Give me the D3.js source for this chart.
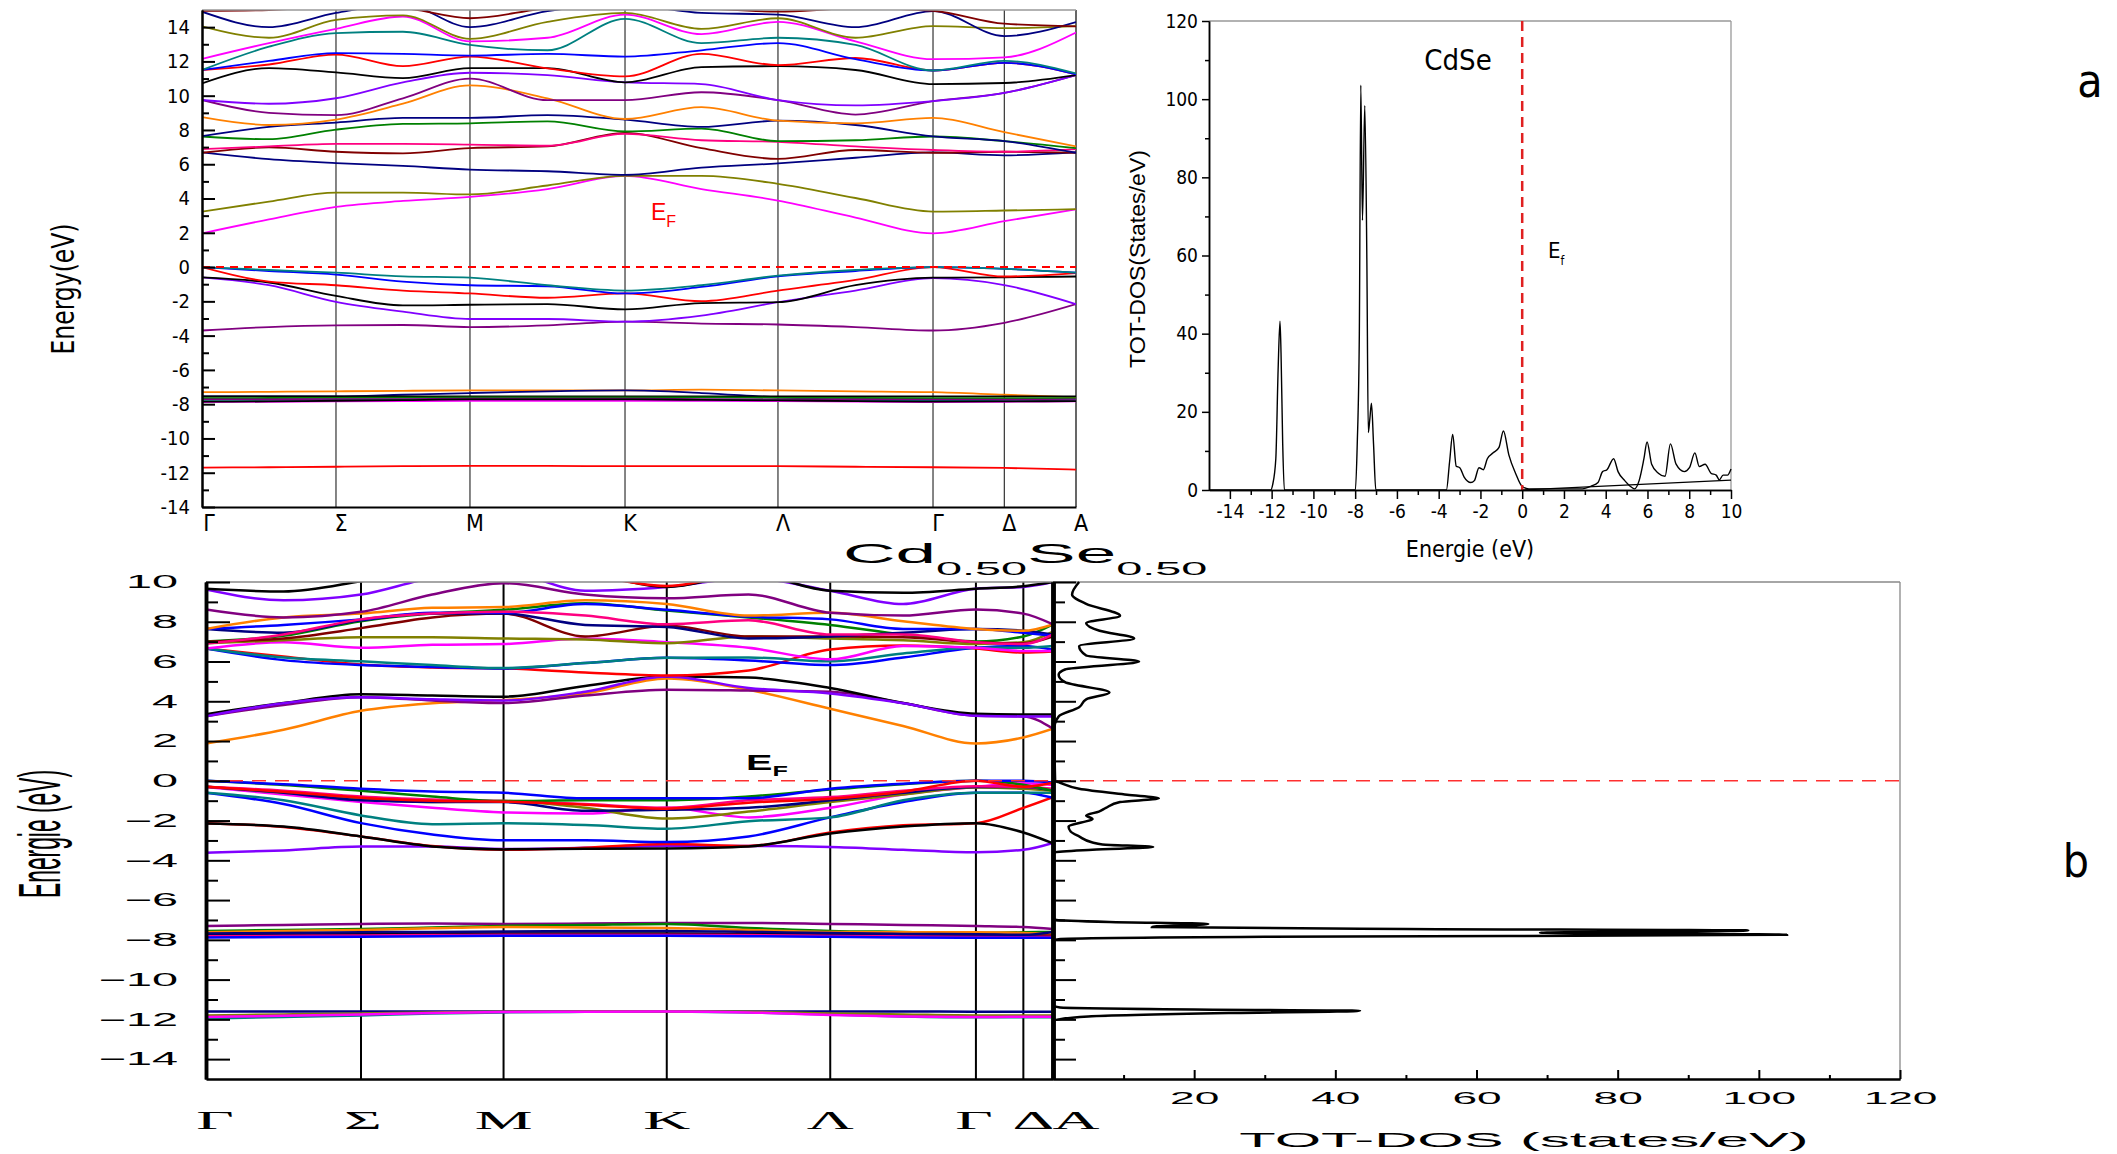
<!DOCTYPE html>
<html>
<head>
<meta charset="utf-8">
<script src="https://cdn.jsdelivr.net/npm/d3@7"></script>
<style>
  body { margin: 0; background: #fff; }
  svg { display: block; }
  .narrow { font-family: "Liberation Sans Narrow", "Arial Narrow", "DejaVu Sans Condensed", sans-serif; }
  .wide { font-family: "Liberation Sans", Arial, sans-serif; }
  .serif { font-family: "Liberation Serif", "Times New Roman", serif; }
</style>
</head>
<body>
<script>
/* Data */

//High symmetry points and their position along the k path (fraction of path).
var kLabels = ["Γ", "Σ", "M", "K", "Λ", "Γ", "Δ", "A"];
var kPosA = [0, 0.1533, 0.3066, 0.484, 0.659, 0.8364, 0.918, 1];
var kPosB = [0, 0.183, 0.3513, 0.544, 0.737, 0.909, 0.965, 1];

//Band energies (eV), sampled at Γ, mid, Σ, mid, M, mid, K, mid, Λ, mid, Γ, Δ, A.
var bandsA = [
  [-11.7, -11.68, -11.65, -11.62, -11.6, -11.6, -11.62, -11.62, -11.62, -11.65, -11.68, -11.72, -11.82],
  [-7.3, -7.28, -7.25, -7.22, -7.2, -7.2, -7.2, -7.15, -7.2, -7.25, -7.3, -7.45, -7.6],
  [-7.55, -7.55, -7.55, -7.45, -7.35, -7.25, -7.2, -7.35, -7.6, -7.75, -7.8, -7.75, -7.7],
  [-7.55, -7.55, -7.55, -7.55, -7.55, -7.55, -7.55, -7.55, -7.55, -7.55, -7.55, -7.55, -7.55],
  [-7.65, -7.64, -7.63, -7.62, -7.6, -7.6, -7.6, -7.6, -7.63, -7.64, -7.65, -7.65, -7.65],
  [-7.72, -7.72, -7.7, -7.7, -7.68, -7.68, -7.68, -7.7, -7.72, -7.72, -7.74, -7.74, -7.72],
  [-7.82, -7.82, -7.8, -7.78, -7.76, -7.76, -7.76, -7.78, -7.8, -7.82, -7.83, -7.82, -7.8],
  [-7.88, -7.86, -7.84, -7.82, -7.8, -7.8, -7.8, -7.8, -7.82, -7.85, -7.88, -7.86, -7.84],
  [-7.85, -7.84, -7.8, -7.76, -7.72, -7.72, -7.72, -7.75, -7.78, -7.82, -7.85, -7.84, -7.82],
  [-3.7, -3.5, -3.4, -3.38, -3.5, -3.4, -3.18, -3.3, -3.35, -3.5, -3.7, -3.25, -2.16],
  [-0.6, -1.06, -2.03, -2.6, -3.03, -3.03, -3.18, -2.83, -2.05, -1.37, -0.65, -1.05, -2.16],
  [-0.6, -0.9, -1.68, -2.24, -2.2, -2.16, -2.47, -2.1, -2.05, -1.06, -0.62, -0.6, -0.55],
  [0, -0.85, -1.06, -1.37, -1.54, -1.79, -1.54, -1.99, -1.37, -0.75, 0, -0.55, -0.35],
  [0, -0.23, -0.44, -0.85, -1.06, -1.12, -1.54, -1.16, -0.54, -0.23, 0, -0.1, -0.33],
  [0, -0.17, -0.33, -0.54, -0.62, -1.06, -1.37, -1.06, -0.5, -0.17, 0, -0.1, -0.33],
  [1.97, 2.78, 3.51, 3.86, 4.09, 4.55, 5.32, 4.55, 3.88, 2.89, 1.97, 2.68, 3.37],
  [3.24, 3.82, 4.34, 4.34, 4.24, 4.76, 5.32, 5.32, 4.86, 4.03, 3.24, 3.3, 3.38],
  [6.69, 6.3, 6.07, 5.9, 5.69, 5.59, 5.38, 5.8, 6.05, 6.38, 6.69, 6.52, 6.69],
  [6.67, 6.98, 6.73, 6.63, 6.94, 7.04, 7.83, 6.94, 6.31, 6.83, 6.67, 6.73, 6.67],
  [6.88, 7.04, 7.19, 7.19, 7.15, 7.08, 7.77, 7.4, 7.31, 7.04, 6.83, 6.73, 6.88],
  [7.62, 7.46, 8.02, 8.35, 8.39, 8.5, 7.91, 8.08, 7.35, 7.4, 7.62, 7.35, 6.94],
  [7.64, 8.18, 8.43, 8.7, 8.7, 8.87, 8.6, 8.18, 8.54, 8.29, 7.62, 7.35, 6.67],
  [8.75, 8.29, 8.6, 9.53, 10.6, 9.85, 8.64, 9.33, 8.54, 8.39, 8.7, 7.87, 7.04],
  [9.75, 9.0, 8.87, 9.85, 11.0, 9.74, 9.74, 10.2, 9.74, 8.9, 9.68, 10.16, 11.2],
  [9.75, 9.53, 9.85, 10.78, 11.34, 11.2, 10.78, 10.68, 9.74, 9.43, 9.68, 10.16, 11.2],
  [10.72, 11.61, 11.36, 11.03, 11.61, 11.61, 10.78, 11.67, 11.72, 11.5, 10.68, 10.74, 11.2],
  [11.5, 11.82, 12.4, 11.72, 12.28, 11.6, 11.13, 12.44, 11.78, 12.2, 11.47, 11.92, 11.24],
  [11.5, 12.03, 12.48, 12.44, 12.34, 12.44, 12.28, 12.65, 13.07, 12.13, 11.47, 11.92, 11.24],
  [11.5, 12.86, 13.65, 13.73, 12.96, 12.65, 14.48, 13.07, 13.38, 12.96, 11.47, 12.03, 11.3],
  [12.15, 13.07, 13.9, 14.62, 13.17, 13.38, 14.73, 13.59, 14.31, 13.17, 12.13, 12.24, 13.69],
  [14.05, 13.38, 14.42, 14.69, 13.32, 14.31, 14.83, 13.9, 14.52, 13.38, 14.06, 13.94, 14.06],
  [14.9, 14.0, 14.83, 15.35, 14.0, 14.94, 15.3, 14.83, 14.73, 14.0, 14.94, 13.48, 14.3],
  [14.95, 15.0, 15.2, 15.1, 14.52, 15.1, 15.3, 15.1, 14.9, 15.1, 14.95, 14.2, 14.05]
];
var bandColorsA = ["#ff0000", "#ff8000", "#000080", "#000000", "#008000", "#800080", "#008080", "#ff00ff", "#000000",
  "#800080", "#8000ff", "#000000", "#ff0000", "#0000ff", "#008080",
  "#ff00ff", "#808000", "#000080", "#800000", "#ff0080", "#008000", "#000080", "#ff8000", "#800080", "#8000ff",
  "#000000", "#ff0000", "#0000ff", "#008080", "#ff00ff", "#808000", "#000080", "#800000"];

var bandsB = [
  [-11.6, -11.6, -11.6, -11.6, -11.6, -11.6, -11.6, -11.6, -11.6, -11.6, -11.62, -11.62, -11.62],
  [-11.95, -11.88, -11.8, -11.7, -11.65, -11.62, -11.6, -11.65, -11.75, -11.85, -11.9, -11.9, -11.9],
  [-11.8, -11.75, -11.7, -11.65, -11.62, -11.61, -11.6, -11.62, -11.7, -11.75, -11.8, -11.8, -11.8],
  [-11.88, -11.82, -11.75, -11.68, -11.63, -11.62, -11.61, -11.65, -11.78, -11.85, -11.88, -11.87, -11.87],
  [-7.3, -7.25, -7.2, -7.18, -7.2, -7.18, -7.15, -7.15, -7.2, -7.25, -7.3, -7.35, -7.45],
  [-7.55, -7.5, -7.45, -7.38, -7.3, -7.25, -7.2, -7.4, -7.55, -7.6, -7.65, -7.62, -7.6],
  [-7.62, -7.55, -7.5, -7.42, -7.35, -7.38, -7.4, -7.5, -7.6, -7.62, -7.62, -7.65, -7.7],
  [-7.75, -7.74, -7.72, -7.7, -7.7, -7.7, -7.7, -7.72, -7.75, -7.76, -7.78, -7.78, -7.78],
  [-7.72, -7.72, -7.7, -7.7, -7.68, -7.68, -7.68, -7.7, -7.72, -7.75, -7.75, -7.8, -7.85],
  [-7.82, -7.8, -7.78, -7.76, -7.75, -7.75, -7.75, -7.76, -7.8, -7.82, -7.85, -7.85, -7.85],
  [-7.88, -7.86, -7.84, -7.82, -7.8, -7.8, -7.8, -7.82, -7.85, -7.88, -7.9, -7.9, -7.9],
  [-7.68, -7.66, -7.62, -7.6, -7.58, -7.56, -7.55, -7.6, -7.66, -7.7, -7.72, -7.75, -7.6],
  [-3.62, -3.5, -3.31, -3.31, -3.43, -3.37, -3.28, -3.28, -3.33, -3.47, -3.6, -3.47, -3.12],
  [-2.13, -2.32, -2.8, -3.28, -3.47, -3.37, -3.18, -3.28, -2.6, -2.24, -2.13, -1.36, -0.82],
  [-2.15, -2.3, -2.8, -3.3, -3.45, -3.42, -3.4, -3.3, -2.65, -2.3, -2.13, -2.6, -3.15],
  [-0.6, -1.17, -2.13, -2.7, -2.99, -2.99, -3.08, -2.8, -1.84, -1.07, -0.6, -0.6, -0.86],
  [-0.6, -0.98, -1.74, -2.18, -2.13, -2.22, -2.41, -2.03, -1.84, -0.98, -0.6, -0.6, -0.6],
  [-0.31, -0.69, -1.07, -1.36, -1.59, -1.65, -1.36, -1.84, -1.36, -0.69, -0.31, -0.12, -0.21],
  [-0.3, -0.6, -0.88, -1.07, -1.02, -1.36, -1.9, -1.55, -1.07, -0.69, -0.34, -0.4, -0.5],
  [-0.3, -0.6, -0.98, -1.07, -1.07, -1.51, -1.46, -1.36, -0.98, -0.6, -0.31, -0.31, -0.48],
  [-0.3, -0.5, -0.79, -0.94, -1.02, -1.17, -1.36, -0.98, -0.82, -0.5, -0.27, -0.3, -0.4],
  [0, -0.21, -0.5, -0.79, -1.02, -0.98, -0.98, -0.79, -0.44, -0.17, 0, -0.2, -0.5],
  [0, -0.17, -0.4, -0.54, -0.6, -0.88, -0.88, -0.88, -0.4, -0.15, 0, 0, -0.08],
  [-0.3, -0.55, -0.85, -1.0, -1.05, -1.2, -1.4, -1.1, -0.9, -0.55, 0, -0.3, -0.1],
  [1.88, 2.57, 3.52, 3.9, 4.06, 4.39, 5.15, 4.58, 3.62, 2.76, 1.88, 2.18, 2.62],
  [3.25, 3.81, 4.2, 4.04, 3.91, 4.29, 4.58, 4.54, 4.48, 3.91, 3.27, 3.24, 2.62],
  [3.35, 3.91, 4.35, 4.29, 4.23, 4.77, 5.25, 5.19, 4.67, 3.91, 3.37, 3.33, 3.33],
  [3.25, 3.9, 4.2, 4.1, 4.04, 4.48, 5.25, 4.67, 4.39, 3.9, 3.27, 3.24, 3.24],
  [6.65, 6.25, 5.85, 5.7, 5.65, 5.45, 5.3, 5.55, 6.6, 6.8, 6.65, 6.45, 6.5],
  [6.65, 6.07, 5.82, 5.73, 5.65, 5.92, 6.19, 6.05, 5.82, 6.2, 6.69, 6.78, 6.59],
  [6.65, 6.2, 6.01, 5.82, 5.67, 5.92, 6.19, 6.2, 6.01, 6.4, 6.69, 6.69, 6.78],
  [6.65, 6.97, 6.69, 6.84, 6.88, 7.16, 6.97, 6.69, 6.11, 6.78, 6.69, 6.53, 6.53],
  [6.92, 7.07, 7.22, 7.22, 7.16, 7.11, 6.92, 7.26, 7.16, 7.07, 6.88, 6.97, 7.51],
  [7.01, 7.3, 8.03, 8.41, 8.6, 8.93, 8.56, 8.22, 7.84, 7.36, 7.01, 7.26, 7.87],
  [7.0, 7.16, 7.68, 8.22, 8.41, 7.26, 7.8, 7.26, 7.26, 7.22, 6.97, 6.92, 7.26],
  [7.64, 7.45, 8.07, 8.41, 8.41, 7.84, 7.74, 7.16, 7.26, 7.45, 7.64, 7.55, 7.36],
  [7.64, 7.84, 8.12, 8.45, 8.45, 8.89, 8.6, 8.26, 8.12, 7.64, 7.64, 7.45, 7.3],
  [6.9, 7.36, 8.12, 8.41, 8.5, 8.31, 7.87, 8.07, 7.36, 7.36, 6.97, 6.88, 7.36],
  [7.64, 8.22, 8.41, 8.7, 8.74, 9.08, 8.89, 8.31, 8.45, 8.03, 7.64, 7.55, 7.87],
  [8.62, 8.22, 8.5, 9.37, 9.94, 9.37, 9.18, 9.37, 8.45, 8.31, 8.62, 8.41, 7.87],
  [9.62, 9.08, 9.37, 10.2, 10.5, 9.56, 9.75, 10.2, 9.56, 8.89, 9.66, 9.75, 10.0],
  [9.66, 9.52, 10.04, 10.7, 11.0, 10.5, 9.75, 10.4, 9.56, 9.46, 9.66, 9.79, 10.0],
  [11.5, 11.3, 11.2, 11.1, 11.0, 10.4, 9.8, 10.6, 11.0, 11.2, 11.3, 11.3, 11.3]
];
var bandColorsB = ["#000080", "#008080", "#808000", "#ff00ff", "#800080", "#008000", "#ff8000", "#800000", "#000000",
  "#ff0080", "#0000ff", "#000080", "#8000ff", "#ff0000", "#000000", "#0000ff", "#008080", "#ff00ff", "#808000",
  "#000080", "#ff0080", "#008000", "#0000ff", "#ff0000", "#ff8000", "#800080", "#000000", "#8000ff", "#ff0000",
  "#0000ff", "#008080", "#ff00ff", "#808000", "#008000", "#800000", "#000080", "#0000ff", "#ff0080", "#ff8000",
  "#800080", "#8000ff", "#000000", "#ff0000"];

//Total DOS of CdSe (panel a): energy (eV) and states/eV.
var dosAE = [-15, -12.05, -11.95, -11.8, -11.69, -11.6, -11.55, -11.47, -11.39, -7.99, -7.9, -7.8, -7.73, -7.65, -7.54,
  -7.44, -7.37, -7.3, -7.22, -7.12, -7.01, -3.63, -3.48, -3.33, -3.16, -2.99, -2.78, -2.46, -2.29, -2.07, -1.86, -1.67,
  -1.39, -1.11, -0.9, -0.64, -0.32, 0, 0.32, 2.88, 3.31, 3.63, 3.85, 4.06, 4.38, 4.59, 4.91, 5.24, 5.38, 5.6, 5.83,
  5.98, 6.2, 6.52, 6.84, 7.1, 7.37, 7.76, 8.01, 8.27, 8.48, 8.76, 9.04, 9.29, 9.44, 9.62, 9.83, 10];
var dosAV = [0, 0, 1.4, 8, 30.7, 43.2, 35, 11.8, 0, 0, 11.8, 40, 103.6, 69, 98.4,
  59, 14.7, 18, 22.2, 11.8, 0, 0, 7.1, 14.2, 6.1, 5.7, 3.3, 1.9, 2.4, 5.7, 5.2, 8.0,
  9.5, 10.9, 15.1, 9.0, 4.3, 0.9, 0.3, 0.3, 1.0, 1.9, 4.7, 5.2, 8.0, 4.7, 2.4, 0.7, 0.3, 2.4, 8,
  12.3, 6.6, 4.3, 3.5, 11.8, 6.6, 4.7, 5.7, 9.5, 6.0, 6.6, 4.3, 3.8, 2.6, 3.8, 3.8, 5.4];
//Straight baseline drawn in the CdSe DOS.
var baseAE = [0, 10];
var baseAV = [0, 2.55];

//Total DOS of Cd0.50Se0.50 (panel b).
var dosBE = [-15, -12.1, -12.0, -11.85, -11.68, -11.57, -11.5, -11.4, -11.3, -8.05, -7.97, -7.85, -7.74, -7.68, -7.64,
  -7.58, -7.53, -7.45, -7.35, -7.2, -7.1, -7.0, -6.9, -3.7, -3.6, -3.47, -3.33, -3.2, -3.1, -2.8, -2.55, -2.3, -2.1,
  -1.93, -1.74, -1.55, -1.36, -1.07, -0.88, -0.7, -0.4, -0.1, 0, 2.66, 3.24, 3.7, 4.1, 4.44, 4.96, 5.34, 5.6, 6.0,
  6.3, 6.78, 7.16, 7.55, 7.93, 8.3, 8.9, 9.37, 10];
var dosBV = [0, 0, 0.8, 5, 25, 43.5, 20, 1, 0, 0, 0.8, 30, 104, 80, 69,
  90, 98.5, 50, 14, 22, 8, 0.5, 0, 0, 0.3, 5.6, 14.2, 7, 5.6, 3.7, 2.5, 2.2, 4,
  5.6, 4.7, 6.5, 7.5, 9.5, 15, 10.5, 3.7, 1, 0.3, 0.2, 0.8, 3.7, 4.7, 8, 1.7, 0.8, 1.7, 12.2,
  4.7, 3.7, 11.5, 6.6, 4.7, 9.5, 4.7, 2.7, 3.7];

//Horizontal stretch of the text in the lower figure.
var S = 2.6;

var svg = d3.select("body").append("svg").attr("width", 2117).attr("height", 1154);

//Scales for the four plots.
var xA = d3.scaleLinear().domain([0, 1]).range([202, 1076]);
var yA = d3.scaleLinear().domain([-14, 15]).range([507, 10]);
var xD = d3.scaleLinear().domain([-15, 10]).range([1209, 1731]);
var yD = d3.scaleLinear().domain([0, 120]).range([490, 21]);
var xB = d3.scaleLinear().domain([0, 1]).range([206, 1053]);
var yB = d3.scaleLinear().domain([-15, 10]).range([1079, 582]);
var xBD = d3.scaleLinear().domain([0, 120]).range([1053, 1900]);

//k values where the bands are sampled.
function sampleK(kp) {
  return [kp[0], (kp[0] + kp[1]) / 2, kp[1], (kp[1] + kp[2]) / 2, kp[2], (kp[2] + kp[3]) / 2, kp[3],
    (kp[3] + kp[4]) / 2, kp[4], (kp[4] + kp[5]) / 2, kp[5], kp[6], kp[7]];
}

//Draw the bands of one panel, clipped to its plot area.
function drawBands(id, bands, colors, kp, x, y, lw) {
  var ks = sampleK(kp);
  svg.append("clipPath").attr("id", id).append("rect")
    .attr("x", x.range()[0]).attr("y", y.range()[1])
    .attr("width", x.range()[1] - x.range()[0]).attr("height", y.range()[0] - y.range()[1]);
  var line = d3.line()
    .x(function (d, i) { return x(ks[i]); })
    .y(function (d) { return y(d); })
    .curve(d3.curveMonotoneX);
  svg.append("g").attr("clip-path", "url(#" + id + ")")
    .selectAll("path").data(bands).enter().append("path")
    .attr("d", line)
    .attr("fill", "none")
    .attr("stroke", function (d, i) { return colors[i]; })
    .attr("stroke-width", lw);
}

/* ---------- Panel a: band structure ---------- */
svg.append("g").selectAll("line").data(kPosA.slice(1)).enter().append("line")
  .attr("x1", function (d) { return xA(d); }).attr("x2", function (d) { return xA(d); })
  .attr("y1", yA(15)).attr("y2", yA(-14))
  .attr("stroke", function (d, i) { return i == kPosA.length - 2 ? "#000" : "#333"; })
  .attr("stroke-width", 1.2);

drawBands("clipA", bandsA, bandColorsA, kPosA, xA, yA, 1.8);

svg.append("line").attr("x1", xA(0)).attr("x2", xA(1)).attr("y1", yA(0)).attr("y2", yA(0))
  .attr("stroke", "#ff0000").attr("stroke-width", 2).attr("stroke-dasharray", "8,6");
svg.append("line").attr("x1", xA(0)).attr("x2", xA(1)).attr("y1", yA(15)).attr("y2", yA(15))
  .attr("stroke", "#999").attr("stroke-width", 1.5);

var axA = svg.append("g").attr("class", "narrow").attr("transform", "translate(" + xA(0) + ",0)");
axA.call(d3.axisLeft(yA).tickValues(d3.range(-14, 15, 2)).tickSize(-13).tickSizeOuter(0).tickPadding(12).tickFormat(String));
axA.append("g").call(d3.axisLeft(yA).tickValues(d3.range(-13, 15, 2)).tickSize(-7).tickSizeOuter(0).tickFormat(""));
axA.selectAll("text").attr("font-size", 20).attr("fill", "#000");
axA.selectAll("path, line").attr("stroke-width", 2);
svg.append("g").attr("transform", "translate(0," + yA(-14) + ")")
  .call(d3.axisBottom(xA).tickValues([]).tickSizeOuter(0))
  .select("path").attr("stroke-width", 2);

svg.append("g").attr("class", "narrow").selectAll("text").data(kLabels).enter().append("text")
  .attr("x", function (d, i) { return xA(kPosA[i]) + (i == 0 ? 7 : 5); })
  .attr("y", 531)
  .attr("text-anchor", "middle").attr("font-size", 23)
  .text(function (d) { return d; });

svg.append("text").attr("class", "narrow")
  .attr("transform", "translate(74,289) rotate(-90)")
  .attr("text-anchor", "middle").attr("font-size", 32)
  .attr("textLength", 131).attr("lengthAdjust", "spacingAndGlyphs")
  .text("Energy(eV)");

var efA = svg.append("text").attr("class", "wide").attr("x", 651).attr("y", 220).attr("fill", "#ff0000");
efA.append("tspan").attr("font-size", 23).text("E");
efA.append("tspan").attr("font-size", 16).attr("dy", 7).text("F");

/* ---------- Panel a: DOS of CdSe ---------- */
svg.append("line").attr("x1", xD(-15)).attr("x2", xD(10)).attr("y1", yD(120)).attr("y2", yD(120))
  .attr("stroke", "#999").attr("stroke-width", 1.3);
svg.append("line").attr("x1", xD(10)).attr("x2", xD(10)).attr("y1", yD(120)).attr("y2", yD(0))
  .attr("stroke", "#999").attr("stroke-width", 1.3);

var lineD = d3.line().x(function (d) { return xD(d[0]); }).y(function (d) { return yD(d[1]); }).curve(d3.curveMonotoneX);
svg.append("path").datum(d3.zip(baseAE, baseAV)).attr("d", lineD)
  .attr("fill", "none").attr("stroke", "#000").attr("stroke-width", 1.3);
svg.append("path").datum(d3.zip(dosAE, dosAV)).attr("d", lineD)
  .attr("fill", "none").attr("stroke", "#000").attr("stroke-width", 1.4);

svg.append("line").attr("x1", xD(0)).attr("x2", xD(0)).attr("y1", yD(120)).attr("y2", yD(0))
  .attr("stroke", "#e02020").attr("stroke-width", 2.5).attr("stroke-dasharray", "10,6");

var axDL = svg.append("g").attr("class", "narrow").attr("transform", "translate(" + xD(-15) + ",0)");
axDL.call(d3.axisLeft(yD).tickValues(d3.range(0, 121, 20)).tickSize(7).tickSizeOuter(0).tickPadding(4));
axDL.append("g").call(d3.axisLeft(yD).tickValues(d3.range(10, 120, 20)).tickSize(4).tickSizeOuter(0).tickFormat(""));
axDL.selectAll("text").attr("font-size", 19).attr("fill", "#000");
axDL.selectAll("path, line").attr("stroke-width", 1.5);

var axDB = svg.append("g").attr("class", "narrow").attr("transform", "translate(0," + yD(0) + ")");
axDB.call(d3.axisBottom(xD).tickValues(d3.range(-14, 11, 2)).tickSize(9).tickSizeOuter(0).tickPadding(6).tickFormat(String));
axDB.append("g").call(d3.axisBottom(xD).tickValues(d3.range(-13, 10, 2)).tickSize(5).tickSizeOuter(0).tickFormat(""));
axDB.selectAll("text").attr("font-size", 19).attr("fill", "#000");
axDB.selectAll("path, line").attr("stroke-width", 1.5);

svg.append("text").attr("class", "narrow").attr("x", 1470).attr("y", 557)
  .attr("text-anchor", "middle").attr("font-size", 23).text("Energie (eV)");
svg.append("text").attr("class", "wide")
  .attr("transform", "translate(1145,259) rotate(-90)")
  .attr("text-anchor", "middle").attr("font-size", 22)
  .attr("textLength", 218).attr("lengthAdjust", "spacingAndGlyphs")
  .text("TOT-DOS(States/eV)");
svg.append("text").attr("class", "narrow").attr("x", 1458).attr("y", 70)
  .attr("text-anchor", "middle").attr("font-size", 29).text("CdSe");
var efD = svg.append("text").attr("class", "narrow").attr("x", 1548).attr("y", 258);
efD.append("tspan").attr("font-size", 22).text("E");
efD.append("tspan").attr("font-size", 12).attr("dy", 7).text("f");

/* ---------- Panel b: band structure ---------- */
svg.append("g").selectAll("line").data(kPosB.slice(1, -1)).enter().append("line")
  .attr("x1", function (d) { return xB(d); }).attr("x2", function (d) { return xB(d); })
  .attr("y1", yB(10)).attr("y2", yB(-15))
  .attr("stroke", "#000").attr("stroke-width", 2);

drawBands("clipB", bandsB, bandColorsB, kPosB, xB, yB, 2.5);

//Frame of the lower figure (top and right).
svg.append("line").attr("x1", xB(0)).attr("x2", xBD(120)).attr("y1", yB(10)).attr("y2", yB(10))
  .attr("stroke", "#888").attr("stroke-width", 1.3);
svg.append("line").attr("x1", xBD(120)).attr("x2", xBD(120)).attr("y1", yB(10)).attr("y2", yB(-15))
  .attr("stroke", "#888").attr("stroke-width", 1.3);

svg.append("line").attr("x1", xB(0)).attr("x2", xBD(120)).attr("y1", yB(0)).attr("y2", yB(0))
  .attr("stroke", "#ff3030").attr("stroke-width", 1.6).attr("stroke-dasharray", "14,9");

var axB = svg.append("g").attr("class", "wide").attr("transform", "translate(" + xB(0) + ",0)");
axB.call(d3.axisLeft(yB).tickValues(d3.range(-14, 11, 2)).tickSize(-24).tickSizeOuter(0));
axB.append("g").call(d3.axisLeft(yB).tickValues(d3.range(-13, 10, 2)).tickSize(-12).tickSizeOuter(0).tickFormat(""));
axB.selectAll("text").attr("font-size", 18).attr("fill", "#000")
  .attr("x", -28 / S).attr("transform", "scale(" + S + ",1)");
axB.selectAll("line").attr("stroke-width", 2);
axB.selectAll("path").attr("stroke-width", 3.5);

svg.append("g").attr("transform", "translate(0," + yB(-15) + ")")
  .call(d3.axisBottom(xB).tickValues([]).tickSizeOuter(0))
  .select("path").attr("stroke-width", 2.5);

svg.append("g").attr("class", "serif").selectAll("text").data(kLabels).enter().append("text")
  .attr("transform", function (d, i) {
    var nudge = [9, 2, 0, 0, 0, -2, 10, 23][i];
    return "translate(" + (xB(kPosB[i]) + nudge) + ",1129) scale(" + S + ",1)";
  })
  .attr("text-anchor", "middle").attr("font-size", 25)
  .text(function (d) { return d; });

svg.append("text").attr("class", "wide")
  .attr("transform", "translate(60,834) rotate(-90) scale(1," + S + ")")
  .attr("text-anchor", "middle").attr("font-size", 23)
  .attr("textLength", 128).attr("lengthAdjust", "spacingAndGlyphs")
  .text("Energie (eV)");

var efB = svg.append("text").attr("class", "wide").attr("font-weight", "bold")
  .attr("transform", "translate(746,770) scale(1.8,1)");
efB.append("tspan").attr("font-size", 22).text("E");
efB.append("tspan").attr("font-size", 14).attr("dy", 6).text("F");

//Title of the lower figure.
var title = svg.append("text").attr("class", "wide").attr("transform", "translate(843,563) scale(" + S + ",1)");
title.append("tspan").attr("font-size", 28).text("Cd");
title.append("tspan").attr("font-size", 18).attr("dy", 12).text("0.50");
title.append("tspan").attr("font-size", 28).attr("dy", -12).text("Se");
title.append("tspan").attr("font-size", 18).attr("dy", 12).text("0.50");

/* ---------- Panel b: DOS ---------- */
var lineBD = d3.line().x(function (d) { return xBD(d[1]); }).y(function (d) { return yB(d[0]); }).curve(d3.curveMonotoneY);
svg.append("path").datum(d3.zip(dosBE, dosBV).reverse()).attr("d", lineBD)
  .attr("fill", "none").attr("stroke", "#000").attr("stroke-width", 2.5);

var axBL = svg.append("g").attr("transform", "translate(" + xBD(0) + ",0)");
axBL.call(d3.axisLeft(yB).tickValues(d3.range(-14, 11, 2)).tickSize(-23).tickSizeOuter(0).tickFormat(""));
axBL.append("g").call(d3.axisLeft(yB).tickValues(d3.range(-13, 10, 2)).tickSize(-12).tickSizeOuter(0).tickFormat(""));
axBL.selectAll("line").attr("stroke-width", 2);
axBL.selectAll("path").attr("stroke-width", 4.5);

var axBB = svg.append("g").attr("class", "wide").attr("transform", "translate(0," + yB(-15) + ")");
axBB.call(d3.axisBottom(xBD).tickValues(d3.range(20, 121, 20)).tickSize(-9).tickSizeOuter(0).tickPadding(13));
axBB.append("g").call(d3.axisBottom(xBD).tickValues(d3.range(10, 120, 20)).tickSize(-4).tickSizeOuter(0).tickFormat(""));
axBB.selectAll("text").attr("font-size", 17).attr("fill", "#000").attr("transform", "scale(" + S + ",1)");
axBB.selectAll("path, line").attr("stroke-width", 2);

svg.append("text").attr("class", "wide")
  .attr("transform", "translate(1524,1147) scale(" + S + ",1)")
  .attr("text-anchor", "middle").attr("font-size", 21)
  .attr("textLength", 219).attr("lengthAdjust", "spacingAndGlyphs")
  .text("TOT-DOS (states/eV)");

//Panel letters.
svg.append("text").attr("class", "narrow").attr("x", 2090).attr("y", 97)
  .attr("text-anchor", "middle").attr("font-size", 46).text("a");
svg.append("text").attr("class", "narrow").attr("x", 2076).attr("y", 877)
  .attr("text-anchor", "middle").attr("font-size", 46).text("b");
</script>
</body>
</html>
